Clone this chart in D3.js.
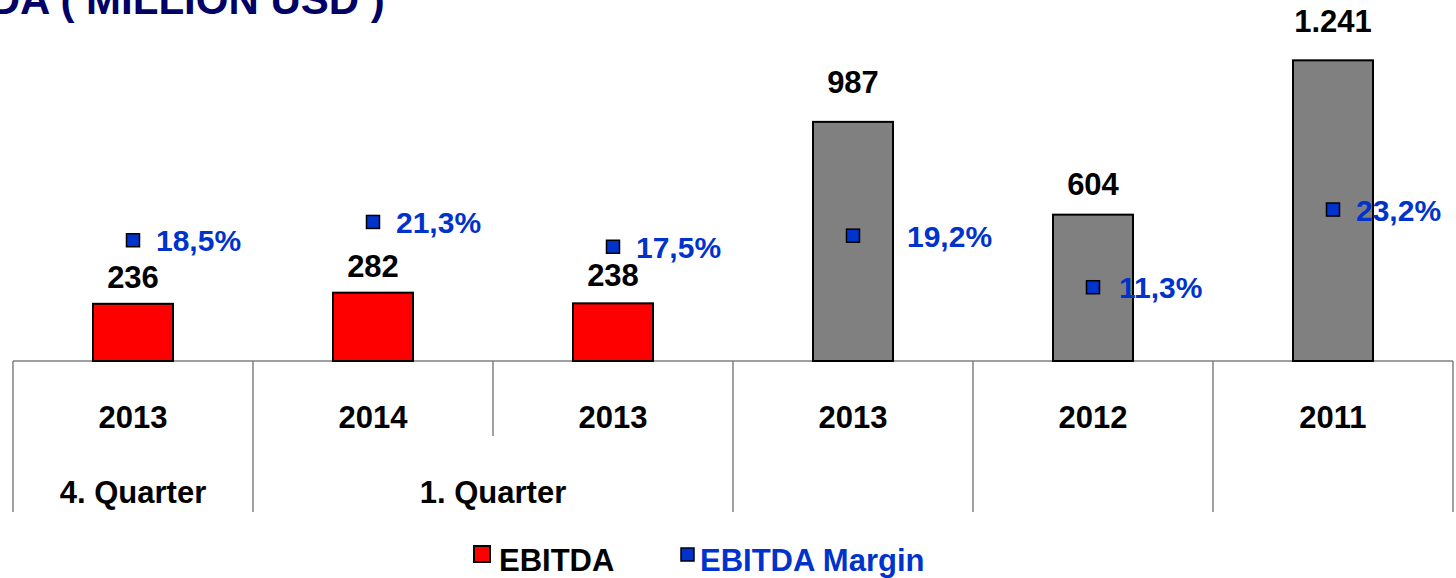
<!DOCTYPE html>
<html>
<head>
<meta charset="utf-8">
<script src="https://cdn.jsdelivr.net/npm/d3@7"></script>
<style>
  html, body { margin: 0; padding: 0; background: #fff; overflow: hidden; }
  svg { display: block; font-family: "Liberation Sans", Arial, sans-serif; font-weight: bold; }
</style>
</head>
<body>
<div class="display"></div>
<script>
const years = ['2013', '2014', '2013', '2013', '2012', '2011'];
const ebitda = [236, 282, 238, 987, 604, 1241];
const margins = [18.5, 21.3, 17.5, 19.2, 11.3, 23.2];
const periodType = ['Q', 'Q', 'Q', 'Y', 'Y', 'Y'];
const groupLabels = ['4. Quarter', '1. Quarter', '', '', ''];
const groupStarts = [0, 1, 3, 4, 5];
const groupEnds = [0, 2, 3, 4, 5];

const width = 1456;
const height = 578;
const baseY = 361;

// label gaps as placed on the slide (px above bar top, px right of marker)
const valueGap = [16, 16, 17, 29, 20, 28];
const marginGap = [23, 23, 23, 54, 26, 23];

const locale = d3.formatLocale({ decimal: ',', thousands: '.', grouping: [3], currency: ['', ''] });
const fmtValue = locale.format(',d');
const fmtMargin = locale.format('.1f');

const svg = d3.select('.display')
    .append('svg')
    .attr('width', width)
    .attr('height', height);

const xScale = d3.scaleBand()
    .domain(d3.range(years.length))
    .range([13, 1453])
    .padding(0);

const yScale = d3.scaleLinear()
    .domain([0, 1490])
    .range([baseY, 0]);

const y2Scale = d3.scaleLinear()
    .domain([0, 55.3])
    .range([baseY, 0]);

const barW = xScale.bandwidth() / 3;
const cx = i => xScale(i) + xScale.bandwidth() / 2;

// title (cut off on the left like the slide)
svg.append('text')
    .attr('x', -106)
    .attr('y', 14)
    .attr('fill', '#000066')
    .style('font-size', '42px')
    .text('EBITDA ( MILLION USD )');

// category axis lines
const axis = svg.append('g').attr('stroke', '#808080').attr('stroke-width', 1.5);
axis.append('line')
    .attr('x1', xScale(0)).attr('x2', xScale(years.length - 1) + xScale.bandwidth())
    .attr('y1', baseY).attr('y2', baseY);

const edges = d3.range(years.length + 1);
const groupEdges = new Set(groupStarts.concat([years.length]));
const edgeX = i => i < years.length ? xScale(i) : xScale(i - 1) + xScale.bandwidth();
axis.selectAll('line.tick')
    .data(edges)
    .enter()
    .append('line')
    .attr('class', 'tick')
    .attr('x1', edgeX)
    .attr('x2', edgeX)
    .attr('y1', baseY)
    .attr('y2', i => groupEdges.has(i) ? 512 : 436);

svg.selectAll('text.year')
    .data(years)
    .enter()
    .append('text')
    .attr('class', 'year')
    .attr('x', (_, i) => cx(i))
    .attr('y', 428)
    .attr('text-anchor', 'middle')
    .style('font-size', '31px')
    .text(d => d);

svg.selectAll('text.group')
    .data(groupLabels)
    .enter()
    .append('text')
    .attr('class', 'group')
    .attr('x', (_, g) => (xScale(groupStarts[g]) + xScale(groupEnds[g]) + xScale.bandwidth()) / 2)
    .attr('y', 503)
    .attr('text-anchor', 'middle')
    .style('font-size', '31px')
    .text(d => d);

// bars
svg.selectAll('rect.bar')
    .data(ebitda)
    .enter()
    .append('rect')
    .attr('class', 'bar')
    .attr('x', (_, i) => cx(i) - barW / 2)
    .attr('y', d => yScale(d))
    .attr('width', barW)
    .attr('height', d => baseY - yScale(d))
    .attr('fill', (_, i) => periodType[i] === 'Q' ? '#ff0000' : '#808080')
    .attr('stroke', '#000')
    .attr('stroke-width', 2);

svg.selectAll('text.value')
    .data(ebitda)
    .enter()
    .append('text')
    .attr('class', 'value')
    .attr('x', (_, i) => cx(i))
    .attr('y', (d, i) => yScale(d) - valueGap[i])
    .attr('text-anchor', 'middle')
    .style('font-size', '31px')
    .text(d => fmtValue(d));

// margin markers
const mk = 13;
svg.selectAll('rect.marker')
    .data(margins)
    .enter()
    .append('rect')
    .attr('class', 'marker')
    .attr('x', (_, i) => cx(i) - mk / 2)
    .attr('y', d => y2Scale(d) - mk / 2)
    .attr('width', mk)
    .attr('height', mk)
    .attr('fill', '#0033cc')
    .attr('stroke', '#000')
    .attr('stroke-width', 1.5);

svg.selectAll('text.margin')
    .data(margins)
    .enter()
    .append('text')
    .attr('class', 'margin')
    .attr('x', (_, i) => cx(i) + marginGap[i])
    .attr('y', d => y2Scale(d) + 11)
    .attr('fill', '#0033cc')
    .style('font-size', '30px')
    .text(d => fmtMargin(d) + '%');

// legend
const legend = svg.append('g');
legend.append('rect')
    .attr('x', 474).attr('y', 546).attr('width', 16).attr('height', 16)
    .attr('fill', '#ff0000').attr('stroke', '#000').attr('stroke-width', 2);
legend.append('text')
    .attr('x', 499).attr('y', 571)
    .style('font-size', '31px')
    .text('EBITDA');
legend.append('rect')
    .attr('x', 681).attr('y', 548).attr('width', 13).attr('height', 13)
    .attr('fill', '#0033cc').attr('stroke', '#000').attr('stroke-width', 1.5);
legend.append('text')
    .attr('x', 700).attr('y', 571)
    .attr('fill', '#0033cc')
    .style('font-size', '31px')
    .text('EBITDA Margin');
</script>
</body>
</html>
